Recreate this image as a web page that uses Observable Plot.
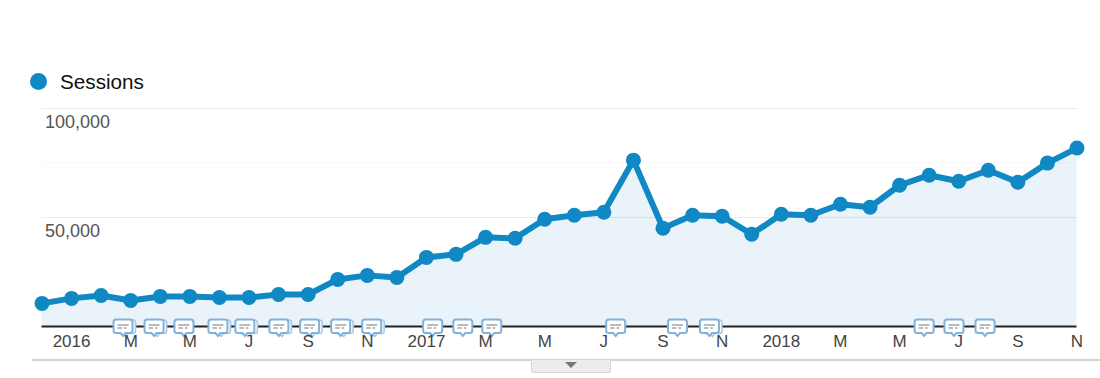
<!DOCTYPE html>
<html><head><meta charset="utf-8">
<script src="https://cdn.jsdelivr.net/npm/d3@7"></script>
<script src="https://cdn.jsdelivr.net/npm/@observablehq/plot@0.6"></script>
<style>
html,body{margin:0;padding:0;background:#fff;width:1100px;height:378px;overflow:hidden;font-family:"Liberation Sans",Arial,sans-serif}
#wrap{position:relative;width:1100px;height:378px}
#legend{position:absolute;left:30px;top:69.5px;height:24px;display:flex;align-items:center;font-size:20.7px;color:#111}
#legend i{display:block;width:17px;height:17px;border-radius:50%;background:#1088c4;margin-right:13px}
#rule{position:absolute;left:32px;right:0;top:359px;height:2px;background:#d4d4d4}
#tab{position:absolute;left:531px;top:360px;width:78px;height:12px;background:#ececec;border:1px solid #d6d6d6;border-top:none;border-radius:0 0 3px 3px}
#tab b{position:absolute;left:33px;top:2px;width:0;height:0;border-left:6.5px solid transparent;border-right:6.5px solid transparent;border-top:6.5px solid #777}
#chart{position:absolute;left:0;top:100px}
svg{display:block}
</style></head><body>
<div id="wrap">
<div id="legend"><i></i><span>Sessions</span></div>
<div id="chart"></div>
<div id="rule"></div>
<div id="tab"><b></b></div>
</div>
<script>
// Monthly sessions, Dec 2015 to Nov 2018
const sessions = [10600,12900,14250,11950,13800,13800,13300,13300,14700,14700,21600,23450,22500,31700,33100,40900,40450,49200,51050,52400,76300,45050,51050,50600,42300,51500,51050,56100,54700,64800,69400,66650,71700,66200,74950,81850];
const monthIndex = sessions.map((_, i) => i);
const tickIndex = [1,3,5,7,9,11,13,15,17,19,21,23,25,27,29,31,33,35];
const tickLabels = ["2016","M","M","J","S","N","2017","M","M","J","S","N","2018","M","M","J","S","N"];
const yLabelled = [50000,100000];
const yMajor = [50000,100000];
const yMinor = [25000,75000];
// Annotation bubbles, position along the month axis
const notes = [2.74,3.79,4.80,5.95,6.86,8.01,9.05,10.10,11.15,13.21,14.23,15.21,19.40,21.49,22.57,29.83,30.84,31.89];
// Bubbles that stand for more than one annotation, drawn with a second one behind
const stackedNotes = [2.74,3.79,5.95,6.86,8.01,9.05,10.10,11.15,22.57];

const table = monthIndex.map(i => ({i, v: sessions[i]}));
const noteRows = notes.map(n => ({n, v: 0}));
const stackRows = stackedNotes.map(n => ({n, v: 0}));
const labelOf = new Map(tickIndex.map((t, k) => [t, tickLabels[k]]));

const bubble = {draw(c, size){
  const w = 9.5, t = 7, b = 6.5, r = 2.5;
  c.moveTo(-w + r, -t); c.lineTo(w - r, -t); c.quadraticCurveTo(w, -t, w, -t + r);
  c.lineTo(w, b - r); c.quadraticCurveTo(w, b, w - r, b);
  c.lineTo(2.5, b); c.lineTo(0, b + 3); c.lineTo(-2.5, b); c.lineTo(-w + r, b);
  c.quadraticCurveTo(-w, b, -w, b - r); c.lineTo(-w, -t + r); c.quadraticCurveTo(-w, -t, -w + r, -t);
  c.closePath();
}};
const glyph = {draw(c, size){
  c.moveTo(-5.5, -1.5); c.lineTo(5.5, -1.5);
  c.moveTo(-5.5, 1.5); c.lineTo(-1, 1.5);
  c.moveTo(1, 1.5); c.lineTo(3.5, 1.5);
}};

const chart = Plot.plot({
  width: 1100, height: 278,
  marginLeft: 41.5, marginRight: 23.5, marginTop: 8, marginBottom: 52,
  style: {fontFamily: '"Liberation Sans",Arial,sans-serif', background: "transparent", overflow: "visible"},
  x: {type: "linear", domain: [0, 35]},
  y: {domain: [0, 100000]},
  marks: [
    Plot.areaY(table, {x: "i", y: "v", fill: "#eaf3fa"}),
    Plot.ruleY(yMinor, {stroke: "#000", strokeOpacity: 0.035}),
    Plot.ruleY(yMajor, {stroke: "#000", strokeOpacity: 0.08}),
    Plot.ruleY([0], {stroke: "#222", strokeWidth: 2}),
    Plot.line(table, {x: "i", y: "v", stroke: "#1088c4", strokeWidth: 6}),
    Plot.dot(table, {x: "i", y: "v", r: 7.5, fill: "#1088c4"}),
    Plot.dot(stackRows, {x: "n", y: "v", dx: 3, dy: 0.5, symbol: bubble, fill: "#fff", stroke: "#a9cbe6", strokeWidth: 1.6}),
    Plot.dot(noteRows, {x: "n", y: "v", symbol: bubble, fill: "#fff", stroke: "#82b1d9", strokeWidth: 2}),
    Plot.dot(noteRows, {x: "n", y: "v", symbol: glyph, fill: "none", stroke: "#a4a4a4", strokeWidth: 1.5}),
    Plot.axisX({ticks: tickIndex, tickFormat: d => labelOf.get(d), tickSize: 0, tickPadding: 8.5, fontSize: 17, color: "#444", label: null}),
    Plot.axisY({ticks: yLabelled, tickFormat: d3.format(","), anchor: "left", tickSize: 0, tickPadding: -3, textAnchor: "start", dy: 13.5, fontSize: 18, color: "#555", label: null})
  ]
});
document.getElementById("chart").appendChild(chart);
</script>
</body></html>
